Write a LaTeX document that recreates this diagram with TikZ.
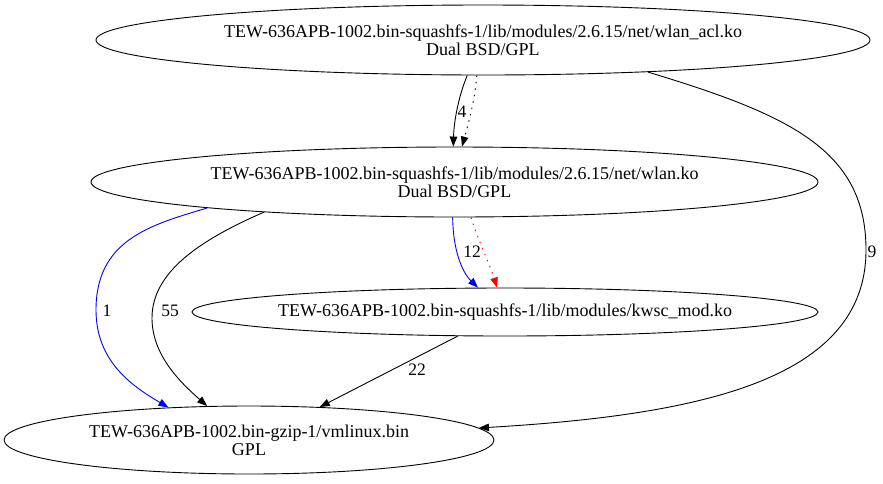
\documentclass[tikz,border=0pt]{standalone}
\usepackage{fontspec}
\setmainfont{Liberation Serif}
\usetikzlibrary{shapes.geometric,arrows.meta}

\begin{document}
\begin{tikzpicture}[x=1pt,y=-1pt,
		mod/.style={draw, ellipse, line width=0.9pt, inner sep=0pt, align=center, font=\fontsize{18}{18}\selectfont},
		dep/.style={-{Triangle[length=10pt,width=7.5pt]}, line width=0.9pt},
		dots/.style={dash pattern=on 1.5pt off 5pt},
		lbl/.style={font=\fontsize{17.5}{18}\selectfont, inner sep=1pt}]

		\useasboundingbox (0,0) rectangle (883,483);

		\node[mod, minimum width=774pt, minimum height=70pt] (acl) at (483,40) {TEW-636APB-1002.bin-squashfs-1/lib/modules/2.6.15/net/wlan\_acl.ko\\Dual BSD/GPL};
		\node[mod, minimum width=727pt, minimum height=70pt] (wlan) at (454.5,182) {TEW-636APB-1002.bin-squashfs-1/lib/modules/2.6.15/net/wlan.ko\\Dual BSD/GPL};
		\node[mod, inner xsep=-10pt, minimum width=626pt, minimum height=48pt] (kwsc) at (505,312) {TEW-636APB-1002.bin-squashfs-1/lib/modules/kwsc\_mod.ko};
		\node[mod, minimum width=490pt, minimum height=68pt] (vmlinux) at (249,440) {TEW-636APB-1002.bin-gzip-1/vmlinux.bin\\GPL};

		\draw[dep] (acl.246) .. controls (459,95) and (454,120) .. (wlan.92.5);
		\draw[dep, dots] (acl.260.5) .. controls (475,100) and (468,125) .. (wlan.78);
		\node[lbl] (l4) at (462,112) {4};

		\draw[dep, blue] (wlan.267.5) .. controls (453,250) and (462,272) .. (kwsc.138.4);
		\draw[dep, red, dots] (wlan.295.2) .. controls (478,240) and (490,265) .. (kwsc.108.4);
		\node[lbl] (l12) at (472,252) {12};

		\draw[dep, blue] (wlan.186.9) .. controls (150,225) and (96,240) .. (96,310) .. controls (96,360) and (130,385) .. (vmlinux.158.6);
		\node[lbl] (l1) at (107,311) {1};

		\draw[dep] (wlan.189.3) .. controls (200,240) and (152,272) .. (152,318) .. controls (152,355) and (180,382) .. (vmlinux.141.8);
		\node[lbl] (l55) at (170,311) {55};

		\draw[dep] (kwsc.207) -- (vmlinux.25.9);
		\node[lbl] (l22) at (417,370) {22};

		\draw[dep] (acl.349) .. controls (790,115) and (866,150) .. (866,250) .. controls (866,380) and (700,415) .. (vmlinux.3);
		\node[lbl] (l9) at (872,252) {9};
	\end{tikzpicture}
\end{document}
